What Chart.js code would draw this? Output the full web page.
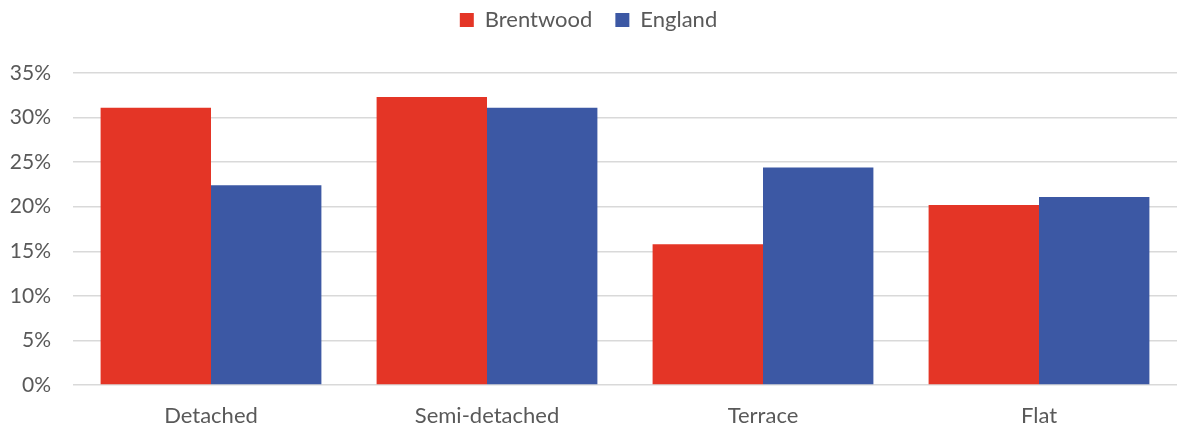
<!DOCTYPE html>
<html>
<head>
<meta charset="utf-8">
<script src="https://cdn.jsdelivr.net/npm/chart.js@4"></script>
<style>
  html, body { margin: 0; padding: 0; background: #fff; }
  #wrap { width: 1178px; height: 430px; }
</style>
</head>
<body>
<div id="wrap"><canvas id="chart" width="1178" height="430"></canvas></div>
<script>
var categories = [ 'Detached', 'Semi-detached', 'Terrace', 'Flat' ];
var brentwood = [ 31.1, 32.3, 15.8, 20.2 ];
var england = [ 22.4, 31.1, 24.4, 21.1 ];
var yTicks = [ 0, 5, 10, 15, 20, 25, 30, 35 ];

var textColor = '#595959';
var fontFamily = 'Lato, "Open Sans", sans-serif';

// extra room between the legend and the plot
var legendGap = {
	id: 'legendGap',
	beforeInit: function ( chart ) {
		var legend = chart.legend;
		if ( ! legend ) { return; }
		var fit = legend.fit;
		legend.fit = function () {
			fit.call( this );
			this.height += 32;
		};
	},
};

new Chart( document.getElementById( 'chart' ), {
	type: 'bar',
	data: {
		labels: categories,
		datasets: [ {
			label: 'Brentwood',
			data: brentwood,
			backgroundColor: '#E43526',
			borderWidth: 0,
		}, {
			label: 'England',
			data: england,
			backgroundColor: '#3C58A4',
			borderWidth: 0,
		} ],
	},
	plugins: [ legendGap ],
	options: {
		responsive: false,
		animation: false,
		layout: { padding: { left: 0, right: 1, top: -14, bottom: 0 } },
		datasets: { bar: { categoryPercentage: 0.8, barPercentage: 1.0 } },
		plugins: {
			legend: {
				position: 'top',
				labels: {
					color: textColor,
					font: { family: fontFamily, size: 22 },
					boxWidth: 14,
					boxHeight: 14,
					padding: 23,
				},
			},
			tooltip: { enabled: false },
		},
		scales: {
			x: {
				grid: { display: false },
				border: { display: false },
				afterFit: function ( axis ) { axis.height = 45; },
				ticks: { color: textColor, font: { family: fontFamily, size: 22 }, padding: 10 },
			},
			y: {
				min: 0,
				max: 35,
				afterBuildTicks: function ( axis ) {
					axis.ticks = yTicks.map( function ( v ) { return { value: v }; } );
				},
				afterFit: function ( axis ) { axis.width = 73; },
				grid: { color: '#D9D9D9', lineWidth: 1.5, drawTicks: false },
				border: { display: false },
				ticks: {
					color: textColor,
					font: { family: fontFamily, size: 21 },
					padding: 22,
					callback: function ( v ) { return v + '%'; },
				},
			},
		},
	},
} );
</script>
</body>
</html>
